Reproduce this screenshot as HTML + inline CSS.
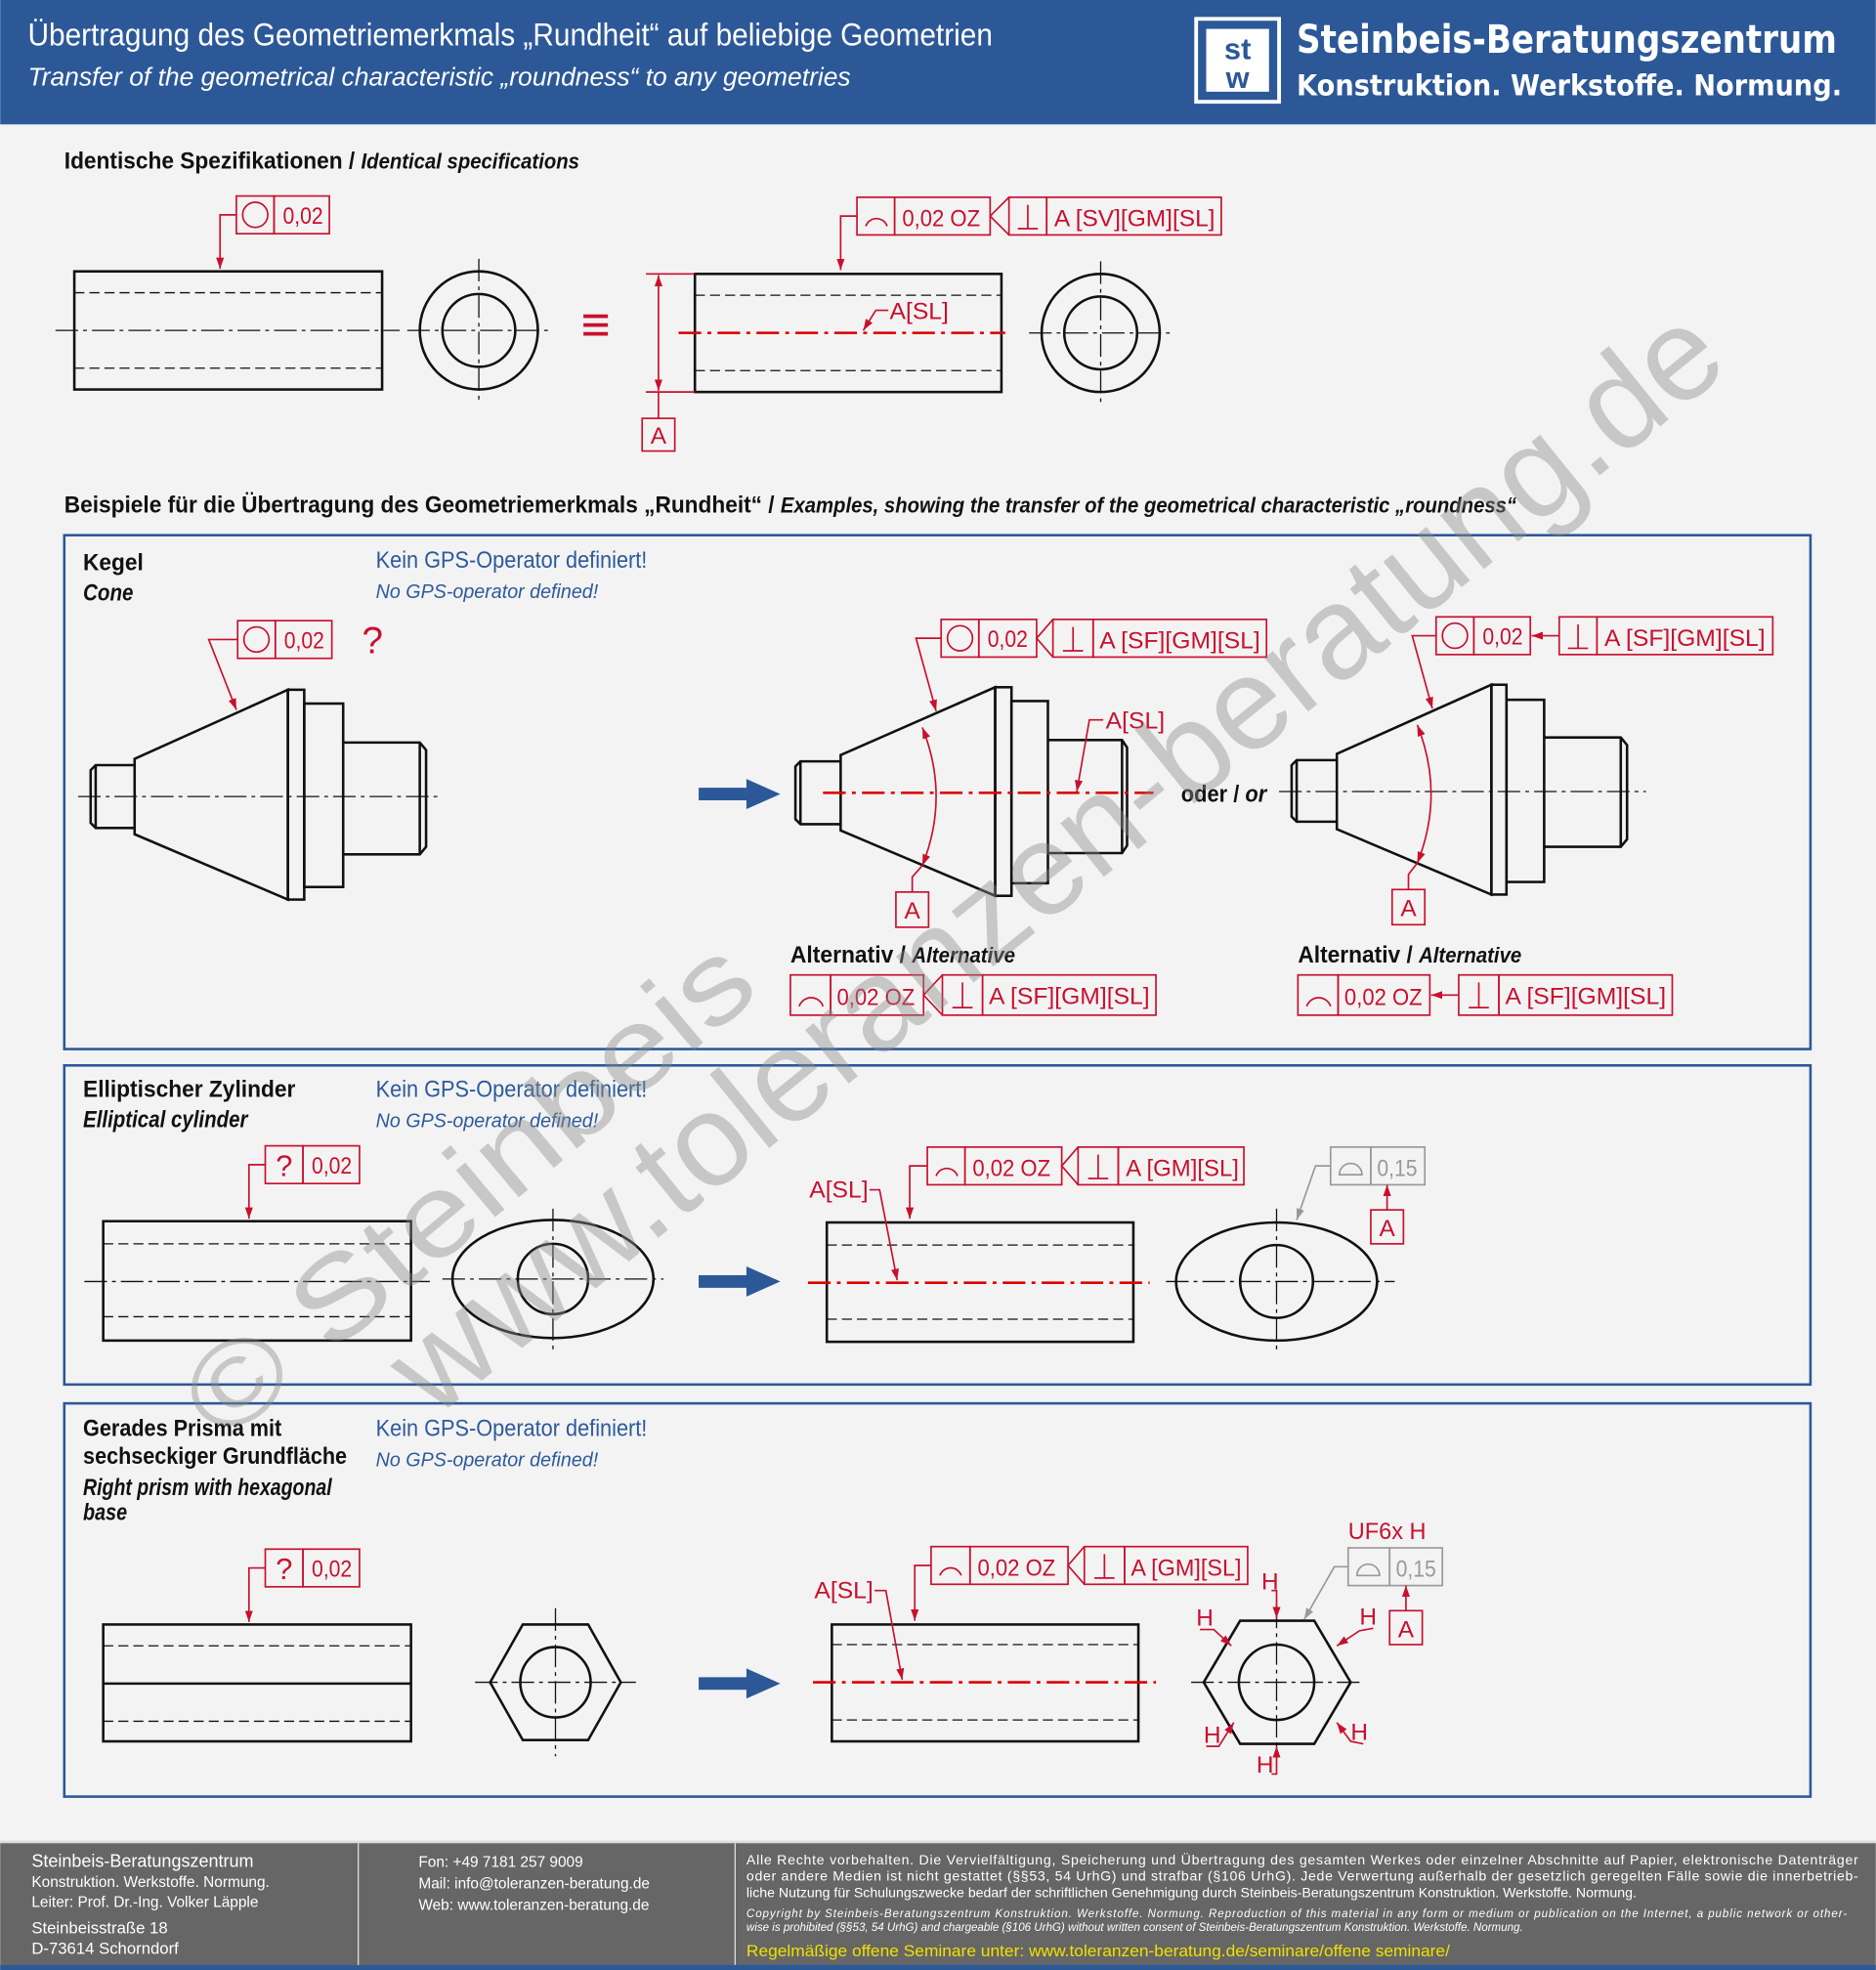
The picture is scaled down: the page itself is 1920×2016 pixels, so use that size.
<!DOCTYPE html>
<html><head><meta charset="utf-8"><style>
html,body{margin:0;padding:0;background:#f3f3f3}
svg{display:block}
text{font-family:"Liberation Sans Narrow","Liberation Sans",sans-serif}
.k{stroke:#111;stroke-width:2;fill:none}
.d{stroke:#111;stroke-width:1;fill:none;stroke-dasharray:8 4}
.c{stroke:#111;stroke-width:1;fill:none;stroke-dasharray:18 4 3 4}
.rc{stroke:#d00;stroke-width:2;fill:none;stroke-dasharray:18 5 3 5}
.r{stroke:#c8102e;stroke-width:1.3;fill:none}
.rt{fill:#c8102e;font-size:19px}
.g{stroke:#999;stroke-width:1.3;fill:none}
.bt{font-weight:bold;font-size:19px;fill:#111}
.bl{fill:#2d5a9b}
</style></head><body>
<svg width="1920" height="2016" viewBox="0 0 1493 1568" xmlns="http://www.w3.org/2000/svg">
<defs>
<marker id="a" viewBox="0 0 10 10" refX="10" refY="5" markerWidth="9" markerHeight="9" orient="auto-start-reverse" markerUnits="userSpaceOnUse"><path d="M0,1.5 L10,5 L0,8.5z" fill="#c8102e"/></marker>
<marker id="ag" viewBox="0 0 10 10" refX="10" refY="5" markerWidth="9" markerHeight="9" orient="auto" markerUnits="userSpaceOnUse"><path d="M0,1.5 L10,5 L0,8.5z" fill="#999"/></marker>
</defs>
<rect width="1493" height="1568" fill="#f3f3f3"/>
<!-- header -->
<rect width="1493" height="99" fill="#2c5898"/>
<text x="22" y="36" fill="#fff" font-size="25" textLength="768" lengthAdjust="spacingAndGlyphs">Übertragung des Geometriemerkmals „Rundheit“ auf beliebige Geometrien</text>
<text x="22" y="68" fill="#fff" font-size="20" font-style="italic" textLength="655" lengthAdjust="spacingAndGlyphs">Transfer of the geometrical characteristic „roundness“ to any geometries</text>
<rect x="952" y="15" width="66" height="66" fill="none" stroke="#fff" stroke-width="3"/>
<rect x="960" y="23" width="50" height="50" fill="#fff"/>
<text x="985" y="47" text-anchor="middle" fill="#2c5898" font-size="24" font-weight="bold">st</text>
<text x="985" y="70" text-anchor="middle" fill="#2c5898" font-size="24" font-weight="bold">w</text>
<text x="1032" y="42" fill="#fff" font-size="31" font-weight="bold" style="font-family:'DejaVu Sans',sans-serif" textLength="430" lengthAdjust="spacingAndGlyphs">Steinbeis-Beratungszentrum</text>
<text x="1032" y="76" fill="#fff" font-size="23" font-weight="bold" style="font-family:'DejaVu Sans',sans-serif" textLength="434" lengthAdjust="spacingAndGlyphs">Konstruktion. Werkstoffe. Normung.</text>

<!-- section 1 -->
<text x="51" y="134" class="bt" font-size="18" textLength="410" lengthAdjust="spacingAndGlyphs">Identische Spezifikationen / <tspan font-style="italic" font-size="17">Identical specifications</tspan></text>
<rect x="59" y="216" width="245" height="94" class="k"/>
<line x1="59" y1="233" x2="304" y2="233" class="d"/><line x1="59" y1="293" x2="304" y2="293" class="d"/>
<line x1="44" y1="263" x2="318" y2="263" class="c"/>
<rect x="188" y="156" width="30" height="30" class="r"/><rect x="218" y="156" width="44" height="30" class="r"/>
<circle cx="203" cy="171" r="10" class="r"/><text x="225" y="178" class="rt" textLength="32" lengthAdjust="spacingAndGlyphs">0,02</text>
<polyline points="188,171 175,171 175,214" class="r" marker-end="url(#a)"/>
<circle cx="381" cy="263" r="47" class="k"/><circle cx="381" cy="263" r="29" class="k"/>
<line x1="324" y1="263" x2="438" y2="263" class="c"/><line x1="381" y1="206" x2="381" y2="320" class="c"/>
<text x="474" y="272" text-anchor="middle" fill="#c8102e" font-size="40" font-weight="bold">≡</text>
<rect x="553" y="218" width="244" height="94" class="k"/>
<line x1="553" y1="235" x2="797" y2="235" class="d"/><line x1="553" y1="295" x2="797" y2="295" class="d"/>
<line x1="540" y1="265" x2="800" y2="265" class="rc"/>
<rect x="682" y="157" width="30" height="30" class="r"/><rect x="712" y="157" width="76" height="30" class="r"/>
<path d="M689,180 A9,9 0 0 1 706,180" class="r"/><text x="718" y="180" class="rt" textLength="62" lengthAdjust="spacingAndGlyphs">0,02 OZ</text>
<polyline points="803,157 788,172 803,187" class="r"/>
<rect x="803" y="157" width="30" height="30" class="r"/><rect x="833" y="157" width="139" height="30" class="r"/>
<path d="M810,182 H826 M818,182 V163" class="r"/><text x="839" y="180" class="rt" textLength="128" lengthAdjust="spacingAndGlyphs">A [SV][GM][SL]</text>
<polyline points="682,172 669,172 669,215" class="r" marker-end="url(#a)"/>
<line x1="514" y1="218" x2="553" y2="218" class="r"/><line x1="514" y1="312" x2="553" y2="312" class="r"/>
<line x1="524" y1="219" x2="524" y2="311" class="r" marker-start="url(#a)" marker-end="url(#a)"/>
<line x1="524" y1="312" x2="524" y2="333" class="r"/>
<rect x="511" y="333" width="26" height="26" class="r"/><text x="524" y="353" text-anchor="middle" class="rt">A</text>
<text x="708" y="254" class="rt" textLength="47" lengthAdjust="spacingAndGlyphs">A[SL]</text>
<polyline points="707,247 697,247 687,263" class="r" marker-end="url(#a)"/>
<circle cx="876" cy="265" r="47" class="k"/><circle cx="876" cy="265" r="29" class="k"/>
<line x1="819" y1="265" x2="933" y2="265" class="c"/><line x1="876" y1="208" x2="876" y2="322" class="c"/>

<!-- section 2 title -->
<text x="51" y="408" class="bt" font-size="18" textLength="1156" lengthAdjust="spacingAndGlyphs">Beispiele für die Übertragung des Geometriemerkmals „Rundheit“ / <tspan font-style="italic" font-size="17">Examples, showing the transfer of the geometrical characteristic „roundness“</tspan></text>

<!-- panel 1 -->
<rect x="51" y="426" width="1390" height="409" fill="none" stroke="#2c5898" stroke-width="2"/>
<text x="66" y="454" class="bt" textLength="48" lengthAdjust="spacingAndGlyphs">Kegel</text><text x="66" y="478" class="bt" font-size="16" font-style="italic" textLength="40" lengthAdjust="spacingAndGlyphs">Cone</text>
<text x="299" y="452" class="bl" font-size="19" textLength="216" lengthAdjust="spacingAndGlyphs">Kein GPS-Operator definiert!</text>
<text x="299" y="476" class="bl" font-size="16" font-style="italic" textLength="177" lengthAdjust="spacingAndGlyphs">No GPS-operator defined!</text>
<g class="k">
<path d="M107,609 H76 L72,613 V655 L76,659 H107"/><line x1="76" y1="609" x2="76" y2="659"/>
<path d="M107,604 L229,549 V716 L107,664 Z"/>
<rect x="229" y="549" width="13" height="167"/>
<rect x="242" y="560" width="31" height="146"/>
<path d="M273,591 H334 L339,597 V674 L334,680 H273"/><line x1="334" y1="591" x2="334" y2="680"/>
</g>
<line x1="62" y1="634" x2="348" y2="634" class="c"/>
<rect x="189" y="494" width="30" height="30" class="r"/><rect x="219" y="494" width="45" height="30" class="r"/>
<circle cx="204" cy="509" r="10" class="r"/><text x="226" y="516" class="rt" textLength="32" lengthAdjust="spacingAndGlyphs">0,02</text>
<text x="288" y="520" fill="#c8102e" font-size="30">?</text>
<polyline points="189,509 166,509 188,565" class="r" marker-end="url(#a)"/>
<path d="M556,627 H594 V620 L621,632 L594,644 V637 H556Z" fill="#2c5898"/>
<g class="k">
<path d="M669,606 H637 L633,610 V652 L637,656 H669"/><line x1="637" y1="606" x2="637" y2="656"/>
<path d="M669,601 L792,547 V713 L669,661 Z"/>
<rect x="792" y="547" width="13" height="166"/>
<rect x="805" y="558" width="29" height="145"/>
<path d="M834,589 H893 L897,595 V673 L893,679 H834"/><line x1="893" y1="589" x2="893" y2="679"/>
</g>
<line x1="655" y1="631" x2="918" y2="631" class="rc"/>
<rect x="749" y="493" width="30" height="30" class="r"/><rect x="779" y="493" width="46" height="30" class="r"/>
<circle cx="764" cy="508" r="10" class="r"/><text x="786" y="515" class="rt" textLength="32" lengthAdjust="spacingAndGlyphs">0,02</text>
<polyline points="838,493 825,508 838,523" class="r"/>
<rect x="838" y="493" width="32" height="30" class="r"/><rect x="870" y="493" width="138" height="30" class="r"/>
<path d="M846,518 H862 M854,518 V499" class="r"/><text x="875" y="516" class="rt" textLength="128" lengthAdjust="spacingAndGlyphs">A [SF][GM][SL]</text>
<polyline points="749,508 729,508 745,566" class="r" marker-end="url(#a)"/>
<path d="M734,579 Q756,634 734,689" class="r" marker-start="url(#a)" marker-end="url(#a)"/>
<polyline points="726,710 726,698 734,689" class="r"/>
<rect x="713" y="710" width="26" height="28" class="r"/><text x="726" y="731" text-anchor="middle" class="rt">A</text>
<text x="880" y="580" class="rt" textLength="47" lengthAdjust="spacingAndGlyphs">A[SL]</text>
<polyline points="878,573 867,573 857,630" class="r" marker-end="url(#a)"/>
<text x="940" y="638" class="bt" font-size="18" textLength="68" lengthAdjust="spacingAndGlyphs">oder / <tspan font-style="italic">or</tspan></text>
<g class="k">
<path d="M1064,605 H1032 L1028,609 V650 L1032,654 H1064"/><line x1="1032" y1="605" x2="1032" y2="654"/>
<path d="M1064,600 L1187,545 V712 L1064,660 Z"/>
<rect x="1187" y="545" width="12" height="167"/>
<rect x="1199" y="557" width="30" height="145"/>
<path d="M1229,587 H1290 L1295,593 V668 L1290,674 H1229"/><line x1="1290" y1="587" x2="1290" y2="674"/>
</g>
<line x1="1018" y1="630" x2="1310" y2="630" class="c"/>
<rect x="1143" y="491" width="30" height="30" class="r"/><rect x="1173" y="491" width="45" height="30" class="r"/>
<circle cx="1158" cy="506" r="10" class="r"/><text x="1180" y="513" class="rt" textLength="32" lengthAdjust="spacingAndGlyphs">0,02</text>
<line x1="1241" y1="506" x2="1219" y2="506" class="r" marker-end="url(#a)"/>
<rect x="1241" y="491" width="30" height="30" class="r"/><rect x="1271" y="491" width="140" height="30" class="r"/>
<path d="M1248,516 H1264 M1256,516 V497" class="r"/><text x="1277" y="514" class="rt" textLength="128" lengthAdjust="spacingAndGlyphs">A [SF][GM][SL]</text>
<polyline points="1143,506 1124,506 1140,564" class="r" marker-end="url(#a)"/>
<path d="M1128,577 Q1150,632 1128,687" class="r" marker-start="url(#a)" marker-end="url(#a)"/>
<polyline points="1121,708 1121,696 1128,687" class="r"/>
<rect x="1108" y="708" width="26" height="28" class="r"/><text x="1121" y="729" text-anchor="middle" class="rt">A</text>
<text x="629" y="766" class="bt" font-size="19" textLength="179" lengthAdjust="spacingAndGlyphs">Alternativ / <tspan font-style="italic" font-size="17">Alternative</tspan></text>
<rect x="629" y="776" width="32" height="32" class="r"/><rect x="661" y="776" width="74" height="32" class="r"/>
<path d="M636,801 A10,10 0 0 1 655,801" class="r"/><text x="666" y="800" class="rt" textLength="62" lengthAdjust="spacingAndGlyphs">0,02 OZ</text>
<polyline points="750,776 735,792 750,808" class="r"/>
<rect x="750" y="776" width="32" height="32" class="r"/><rect x="782" y="776" width="138" height="32" class="r"/>
<path d="M758,802 H774 M766,802 V782" class="r"/><text x="787" y="799" class="rt" textLength="128" lengthAdjust="spacingAndGlyphs">A [SF][GM][SL]</text>
<text x="1033" y="766" class="bt" font-size="19" textLength="178" lengthAdjust="spacingAndGlyphs">Alternativ / <tspan font-style="italic" font-size="17">Alternative</tspan></text>
<rect x="1033" y="776" width="32" height="32" class="r"/><rect x="1065" y="776" width="73" height="32" class="r"/>
<path d="M1040,801 A10,10 0 0 1 1059,801" class="r"/><text x="1070" y="800" class="rt" textLength="62" lengthAdjust="spacingAndGlyphs">0,02 OZ</text>
<line x1="1161" y1="792" x2="1139" y2="792" class="r" marker-end="url(#a)"/>
<rect x="1161" y="776" width="32" height="32" class="r"/><rect x="1193" y="776" width="138" height="32" class="r"/>
<path d="M1169,802 H1185 M1177,802 V782" class="r"/><text x="1198" y="799" class="rt" textLength="128" lengthAdjust="spacingAndGlyphs">A [SF][GM][SL]</text>

<!-- panel 2 -->
<rect x="51" y="848" width="1390" height="254" fill="none" stroke="#2c5898" stroke-width="2"/>
<text x="66" y="873" class="bt" textLength="169" lengthAdjust="spacingAndGlyphs">Elliptischer Zylinder</text><text x="66" y="897" class="bt" font-size="16" font-style="italic" textLength="131" lengthAdjust="spacingAndGlyphs">Elliptical cylinder</text>
<text x="299" y="873" class="bl" font-size="19" textLength="216" lengthAdjust="spacingAndGlyphs">Kein GPS-Operator definiert!</text>
<text x="299" y="897" class="bl" font-size="16" font-style="italic" textLength="177" lengthAdjust="spacingAndGlyphs">No GPS-operator defined!</text>
<rect x="82" y="972" width="245" height="95" class="k"/>
<line x1="82" y1="990" x2="327" y2="990" class="d"/><line x1="82" y1="1048" x2="327" y2="1048" class="d"/>
<line x1="67" y1="1020" x2="342" y2="1020" class="c"/>
<rect x="211" y="912" width="30" height="30" class="r"/><rect x="241" y="912" width="45" height="30" class="r"/>
<text x="226" y="936" text-anchor="middle" fill="#c8102e" font-size="24">?</text><text x="248" y="934" class="rt" textLength="32" lengthAdjust="spacingAndGlyphs">0,02</text>
<polyline points="211,927 198,927 198,970" class="r" marker-end="url(#a)"/>
<ellipse cx="440" cy="1018" rx="80" ry="47" class="k"/><circle cx="440" cy="1018" r="28" class="k"/>
<line x1="352" y1="1018" x2="528" y2="1018" class="c"/><line x1="440" y1="962" x2="440" y2="1074" class="c"/>
<path d="M556,1015 H594 V1008 L621,1020 L594,1032 V1025 H556Z" fill="#2c5898"/>
<rect x="658" y="973" width="244" height="95" class="k"/>
<line x1="658" y1="991" x2="902" y2="991" class="d"/><line x1="658" y1="1050" x2="902" y2="1050" class="d"/>
<line x1="643" y1="1021" x2="915" y2="1021" class="rc"/>
<rect x="738" y="913" width="30" height="30" class="r"/><rect x="768" y="913" width="77" height="30" class="r"/>
<path d="M745,936 A9,9 0 0 1 762,936" class="r"/><text x="774" y="936" class="rt" textLength="62" lengthAdjust="spacingAndGlyphs">0,02 OZ</text>
<polyline points="858,913 845,928 858,943" class="r"/>
<rect x="858" y="913" width="32" height="30" class="r"/><rect x="890" y="913" width="100" height="30" class="r"/>
<path d="M866,938 H882 M874,938 V919" class="r"/><text x="896" y="936" class="rt" textLength="90" lengthAdjust="spacingAndGlyphs">A [GM][SL]</text>
<polyline points="738,928 724,928 724,970" class="r" marker-end="url(#a)"/>
<text x="644" y="953" class="rt" textLength="47" lengthAdjust="spacingAndGlyphs">A[SL]</text>
<polyline points="692,947 700,947 714,1019" class="r" marker-end="url(#a)"/>
<ellipse cx="1016" cy="1020" rx="80" ry="47" class="k"/><circle cx="1016" cy="1020" r="29" class="k"/>
<line x1="928" y1="1020" x2="1110" y2="1020" class="c"/><line x1="1016" y1="962" x2="1016" y2="1076" class="c"/>
<rect x="1059" y="913" width="32" height="30" class="g"/><rect x="1091" y="913" width="43" height="30" class="g"/>
<path d="M1066,935 A9,9 0 0 1 1084,935 Z" class="g"/><text x="1096" y="936" fill="#999" font-size="19" textLength="32" lengthAdjust="spacingAndGlyphs">0,15</text>
<polyline points="1059,928 1047,928 1032,971" class="g" marker-end="url(#ag)"/>
<line x1="1104" y1="943" x2="1104" y2="963" class="r" marker-start="url(#a)"/>
<rect x="1091" y="963" width="26" height="27" class="r"/><text x="1104" y="984" text-anchor="middle" class="rt">A</text>

<!-- panel 3 -->
<rect x="51" y="1117" width="1390" height="313" fill="none" stroke="#2c5898" stroke-width="2"/>
<text x="66" y="1143" class="bt" textLength="158" lengthAdjust="spacingAndGlyphs">Gerades Prisma mit</text><text x="66" y="1165" class="bt" textLength="210" lengthAdjust="spacingAndGlyphs">sechseckiger Grundfläche</text>
<text x="66" y="1190" class="bt" font-size="16" font-style="italic" textLength="198" lengthAdjust="spacingAndGlyphs">Right prism with hexagonal</text>
<text x="66" y="1210" class="bt" font-size="16" font-style="italic" textLength="35" lengthAdjust="spacingAndGlyphs">base</text>
<text x="299" y="1143" class="bl" font-size="19" textLength="216" lengthAdjust="spacingAndGlyphs">Kein GPS-Operator definiert!</text>
<text x="299" y="1167" class="bl" font-size="16" font-style="italic" textLength="177" lengthAdjust="spacingAndGlyphs">No GPS-operator defined!</text>
<rect x="82" y="1293" width="245" height="93" class="k"/><line x1="82" y1="1340" x2="327" y2="1340" class="k"/>
<line x1="82" y1="1310" x2="327" y2="1310" class="d"/><line x1="82" y1="1370" x2="327" y2="1370" class="d"/>
<rect x="211" y="1233" width="30" height="30" class="r"/><rect x="241" y="1233" width="45" height="30" class="r"/>
<text x="226" y="1257" text-anchor="middle" fill="#c8102e" font-size="24">?</text><text x="248" y="1255" class="rt" textLength="32" lengthAdjust="spacingAndGlyphs">0,02</text>
<polyline points="211,1248 198,1248 198,1291" class="r" marker-end="url(#a)"/>
<polygon points="390,1339 416,1293 468,1293 494,1339 468,1385 416,1385" class="k"/>
<circle cx="442" cy="1339" r="28" class="k"/>
<line x1="378" y1="1339" x2="506" y2="1339" class="c"/><line x1="442" y1="1280" x2="442" y2="1398" class="c"/>
<path d="M556,1335 H594 V1328 L621,1340 L594,1352 V1345 H556Z" fill="#2c5898"/>
<rect x="662" y="1293" width="244" height="93" class="k"/>
<line x1="662" y1="1309" x2="906" y2="1309" class="d"/><line x1="662" y1="1369" x2="906" y2="1369" class="d"/>
<line x1="647" y1="1339" x2="920" y2="1339" class="rc"/>
<rect x="741" y="1231" width="31" height="30" class="r"/><rect x="772" y="1231" width="78" height="30" class="r"/>
<path d="M748,1254 A9,9 0 0 1 765,1254" class="r"/><text x="778" y="1254" class="rt" textLength="62" lengthAdjust="spacingAndGlyphs">0,02 OZ</text>
<polyline points="863,1231 850,1246 863,1261" class="r"/>
<rect x="863" y="1231" width="32" height="30" class="r"/><rect x="895" y="1231" width="98" height="30" class="r"/>
<path d="M871,1256 H887 M879,1256 V1237" class="r"/><text x="900" y="1254" class="rt" textLength="88" lengthAdjust="spacingAndGlyphs">A [GM][SL]</text>
<polyline points="741,1246 728,1246 728,1290" class="r" marker-end="url(#a)"/>
<text x="648" y="1272" class="rt" textLength="47" lengthAdjust="spacingAndGlyphs">A[SL]</text>
<polyline points="696,1266 705,1266 718,1337" class="r" marker-end="url(#a)"/>
<polygon points="958,1339 987,1290 1046,1290 1075,1339 1046,1388 987,1388" class="k"/>
<circle cx="1016" cy="1339" r="30" class="k"/>
<line x1="948" y1="1339" x2="1086" y2="1339" class="c"/><line x1="1016" y1="1278" x2="1016" y2="1400" class="c"/>
<text x="1073" y="1225" class="rt" font-size="18" textLength="62" lengthAdjust="spacingAndGlyphs">UF6x H</text>
<rect x="1073" y="1232" width="33" height="30" class="g"/><rect x="1106" y="1232" width="42" height="30" class="g"/>
<path d="M1080,1254 A9,9 0 0 1 1098,1254 Z" class="g"/><text x="1111" y="1255" fill="#999" font-size="19" textLength="32" lengthAdjust="spacingAndGlyphs">0,15</text>
<polyline points="1073,1247 1062,1247 1038,1289" class="g" marker-end="url(#ag)"/>
<line x1="1119" y1="1262" x2="1119" y2="1282" class="r" marker-start="url(#a)"/>
<rect x="1106" y="1282" width="26" height="27" class="r"/><text x="1119" y="1303" text-anchor="middle" class="rt">A</text>
<g class="rt" font-size="17">
<text x="1004" y="1265">H</text><text x="952" y="1294">H</text><text x="1082" y="1293">H</text>
<text x="958" y="1387">H</text><text x="1075" y="1385">H</text><text x="1000" y="1411">H</text>
</g>
<polyline points="1012,1266 1016,1266 1016,1288" class="r" marker-end="url(#a)"/>
<polyline points="955,1297 966,1297 980,1310" class="r" marker-end="url(#a)"/>
<polyline points="1093,1296 1082,1298 1064,1310" class="r" marker-end="url(#a)"/>
<polyline points="960,1390 970,1390 982,1371" class="r" marker-end="url(#a)"/>
<polyline points="1085,1388 1075,1386 1064,1371" class="r" marker-end="url(#a)"/>
<polyline points="1012,1412 1016,1412 1016,1390" class="r" marker-end="url(#a)"/>

<!-- watermark -->
<g fill="#8a8a8a" fill-opacity="0.42" style="font-family:'DejaVu Sans','Liberation Sans',sans-serif">
<text x="0" y="0" font-size="92" transform="translate(178,1150) rotate(-40)" textLength="560" lengthAdjust="spacingAndGlyphs">© Steinbeis</text>
<text x="0" y="0" font-size="104" transform="translate(345,1130) rotate(-39)" textLength="1330" lengthAdjust="spacingAndGlyphs">www.toleranzen-beratung.de</text>
</g>

<!-- footer -->
<rect x="0" y="1467" width="1493" height="101" fill="#666"/>
<rect x="0" y="1465" width="1493" height="2" fill="#ddd"/>
<rect x="0" y="1564" width="1493" height="4" fill="#2c5898"/>
<line x1="285" y1="1467" x2="285" y2="1564" stroke="#ddd"/><line x1="585" y1="1467" x2="585" y2="1564" stroke="#ddd"/>
<g fill="#fff" font-size="13">
<text x="25" y="1486" font-size="14">Steinbeis-Beratungszentrum</text>
<text x="25" y="1502" font-size="12">Konstruktion. Werkstoffe. Normung.</text>
<text x="25" y="1518" font-size="12">Leiter:  Prof. Dr.-Ing. Volker Läpple</text>
<text x="25" y="1539">Steinbeisstraße 18</text>
<text x="25" y="1555">D-73614 Schorndorf</text>
<text x="333" y="1486" font-size="12">Fon:    +49 7181 257 9009</text>
<text x="333" y="1503" font-size="12">Mail:   info@toleranzen-beratung.de</text>
<text x="333" y="1520" font-size="12">Web:   www.toleranzen-beratung.de</text>
<text x="594" y="1484" font-size="11" textLength="885">Alle Rechte vorbehalten. Die Vervielfältigung, Speicherung und Übertragung des gesamten Werkes oder einzelner Abschnitte auf Papier, elektronische Datenträger</text>
<text x="594" y="1497" font-size="11" textLength="885">oder andere Medien ist nicht gestattet (§§53, 54 UrhG) und strafbar (§106 UrhG). Jede Verwertung außerhalb der gesetzlich geregelten Fälle sowie die innerbetrieb-</text>
<text x="594" y="1510" font-size="11">liche Nutzung für Schulungszwecke bedarf der schriftlichen Genehmigung durch Steinbeis-Beratungszentrum Konstruktion. Werkstoffe. Normung.</text>
<text x="594" y="1526" font-size="9" font-style="italic" textLength="876">Copyright by Steinbeis-Beratungszentrum Konstruktion. Werkstoffe. Normung. Reproduction of this material in any form or medium or publication on the Internet, a public network or other-</text>
<text x="594" y="1537" font-size="9" font-style="italic">wise is prohibited (§§53, 54 UrhG) and chargeable (§106 UrhG) without written consent of Steinbeis-Beratungszentrum Konstruktion. Werkstoffe. Normung.</text>
<text x="594" y="1557" font-size="13" fill="#f0e000" textLength="560" lengthAdjust="spacingAndGlyphs">Regelmäßige offene Seminare unter:  www.toleranzen-beratung.de/seminare/offene seminare/</text>
</g>
</svg>
</body></html>
